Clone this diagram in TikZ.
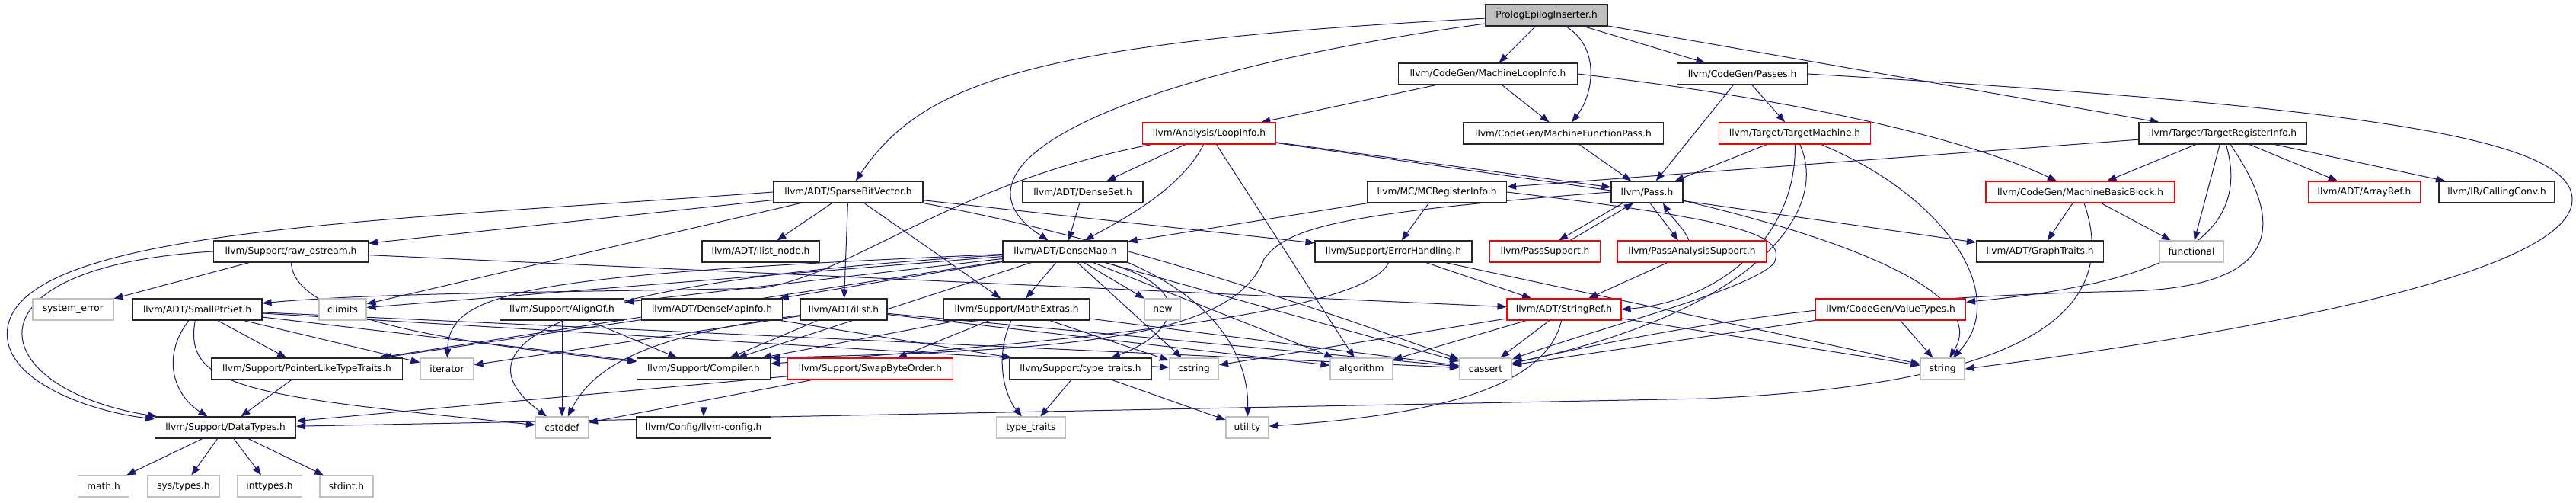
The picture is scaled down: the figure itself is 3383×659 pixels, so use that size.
\documentclass[tikz,border=0pt]{standalone}
\usepackage{fontspec}
\newfontfamily\dv{DejaVu Sans}
\usetikzlibrary{arrows.meta,backgrounds}
\definecolor{edgeblue}{HTML}{191970}
\definecolor{boxgrey}{HTML}{BFBFBF}
\begin{document}
\begin{tikzpicture}[x=1pt,y=-1pt,
 nd/.style={draw=black!85, fill=white, line width=1.1pt, minimum height=28pt, inner sep=0pt, font=\dv\fontsize{12.2}{14}\selectfont},
 rd/.style={nd, draw=red},
 gr/.style={nd, draw=boxgrey},
 rt/.style={nd, fill=boxgrey},
 dep/.style={draw=edgeblue, line width=1pt, -{Triangle[length=12pt,width=9pt]}}]
\useasboundingbox (0,0) rectangle (3383,659);
\node[rt,minimum width=160pt] (pei) at (2031,20) {PrologEpilogInserter.h};
\node[nd,minimum width=235pt] (mli) at (1954,97) {llvm/CodeGen/MachineLoopInfo.h};
\node[nd,minimum width=171pt] (passes) at (2288,97) {llvm/CodeGen/Passes.h};
\node[rd,minimum width=175pt] (loopinfo) at (1588,175) {llvm/Analysis/LoopInfo.h};
\node[nd,minimum width=263pt] (mfp) at (2053,175) {llvm/CodeGen/MachineFunctionPass.h};
\node[rd,minimum width=199pt] (tm) at (2357,175) {llvm/Target/TargetMachine.h};
\node[nd,minimum width=220pt] (tri) at (2919,175) {llvm/Target/TargetRegisterInfo.h};
\node[nd,minimum width=196pt] (sbv) at (1114,252) {llvm/ADT/SparseBitVector.h};
\node[nd,minimum width=158pt] (denseset) at (1422,252) {llvm/ADT/DenseSet.h};
\node[nd,minimum width=183pt] (mcri) at (1887,252) {llvm/MC/MCRegisterInfo.h};
\node[nd,minimum width=94pt] (pass) at (2163,252) {llvm/Pass.h};
\node[rd,minimum width=248pt] (mbb) at (2732,252) {llvm/CodeGen/MachineBasicBlock.h};
\node[rd,minimum width=147pt] (arrayref) at (3105,252) {llvm/ADT/ArrayRef.h};
\node[nd,minimum width=152pt] (callingconv) at (3279,252) {llvm/IR/CallingConv.h};
\node[nd,minimum width=203pt] (rawos) at (382,330) {llvm/Support/raw\_ostream.h};
\node[nd,minimum width=154pt] (ilistnode) at (999,330) {llvm/ADT/ilist\_node.h};
\node[nd,minimum width=164pt] (densemap) at (1399,330) {llvm/ADT/DenseMap.h};
\node[nd,minimum width=206pt] (errh) at (1830,330) {llvm/Support/ErrorHandling.h};
\node[rd,minimum width=145pt] (passsupport) at (2029,330) {llvm/PassSupport.h};
\node[rd,minimum width=196pt] (pas) at (2222,330) {llvm/PassAnalysisSupport.h};
\node[nd,minimum width=167pt] (graphtraits) at (2679,330) {llvm/ADT/GraphTraits.h};
\node[gr,minimum width=84pt] (functional) at (2878,330) {functional};
\node[gr,minimum width=106pt] (syserr) at (96,406) {system\_error};
\node[nd,minimum width=170pt] (smallptrset) at (259,406) {llvm/ADT/SmallPtrSet.h};
\node[gr,minimum width=62pt] (climits) at (450,406) {climits};
\node[nd,minimum width=163pt] (alignof) at (738,406) {llvm/Support/AlignOf.h};
\node[nd,minimum width=185pt] (densemapinfo) at (935,406) {llvm/ADT/DenseMapInfo.h};
\node[nd,minimum width=114pt] (ilist) at (1108,406) {llvm/ADT/ilist.h};
\node[nd,minimum width=191pt] (mathextras) at (1335,406) {llvm/Support/MathExtras.h};
\node[gr,minimum width=47pt] (new) at (1527,406) {new};
\node[rd,minimum width=150pt] (stringref) at (2054,406) {llvm/ADT/StringRef.h};
\node[rd,minimum width=197pt] (valuetypes) at (2483,406) {llvm/CodeGen/ValueTypes.h};
\node[nd,minimum width=251pt] (pltt) at (403,484) {llvm/Support/PointerLikeTypeTraits.h};
\node[gr,minimum width=70pt] (iterator) at (587,484) {iterator};
\node[nd,minimum width=175pt] (compiler) at (924,484) {llvm/Support/Compiler.h};
\node[rd,minimum width=217pt] (swapbyteorder) at (1143,484) {llvm/Support/SwapByteOrder.h};
\node[nd,minimum width=186pt] (typetraitsh) at (1419,484) {llvm/Support/type\_traits.h};
\node[gr,minimum width=65pt] (cstring) at (1568,484) {cstring};
\node[gr,minimum width=82pt] (algorithm) at (1788,484) {algorithm};
\node[gr,minimum width=69pt] (cassert) at (1951,484) {cassert};
\node[gr,minimum width=58pt] (string) at (2551,484) {string};
\node[nd,minimum width=185pt] (datatypes) at (296,561) {llvm/Support/DataTypes.h};
\node[gr,minimum width=69pt] (cstddef) at (738,561) {cstddef};
\node[nd,minimum width=177pt] (llvmconfig) at (924,561) {llvm/Config/llvm-config.h};
\node[gr,minimum width=91pt] (typetraits) at (1354,561) {type\_traits};
\node[gr,minimum width=56pt] (utility) at (1638,561) {utility};
\node[gr,minimum width=67pt] (math) at (136,638) {math.h};
\node[gr,minimum width=95pt] (systypes) at (241,638) {sys/types.h};
\node[gr,minimum width=85pt] (inttypes) at (354,638) {inttypes.h};
\node[gr,minimum width=70pt] (stdint) at (455,638) {stdint.h};
\begin{scope}[on background layer]
\draw[dep] (pei) .. controls (1350,55) and (1210,110) .. (sbv);
\draw[dep] (pei) .. controls (1450,100) and (1230,220) .. (densemap);
\draw[dep] (pei) -- (mli);
\draw[dep] (pei) .. controls (2100,60) and (2095,120) .. (mfp);
\draw[dep] (pei) -- (passes);
\draw[dep] (pei) -- (tri);
\draw[dep] (mli) -- (loopinfo);
\draw[dep] (mli) -- (mfp);
\draw[dep] (mli.east) .. controls (2400,135) and (2600,190) .. (mbb);
\draw[dep] (passes) -- (pass);
\draw[dep] (passes) -- (tm);
\draw[dep] (passes.east) .. controls (3100,140) and (3378,180) .. (3378,262) .. controls (3378,370) and (2850,450) .. (string.east);
\draw[dep] (loopinfo) -- (denseset);
\draw[dep] (loopinfo) .. controls (1550,250) and (1470,290) .. (densemap);
\draw[dep] (loopinfo) -- (algorithm);
\draw[dep] (loopinfo) -- (pass);
\draw[dep] (loopinfo) -- (graphtraits);
\draw[dep] (loopinfo) .. controls (1250,240) and (1120,360) .. (1000,378) .. controls (800,383) and (500,383) .. (smallptrset);
\draw[dep] (mfp) -- (pass);
\draw[dep] (tm) -- (pass);
\draw[dep] (tm) .. controls (2360,310) and (2260,395) .. (stringref.east);
\draw[dep] (tm) .. controls (2405,280) and (2300,410) .. (cassert);
\draw[dep] (tm) .. controls (2560,260) and (2640,390) .. (string);
\draw[dep] (tri) -- (mcri);
\draw[dep] (tri) -- (mbb);
\draw[dep] (tri) -- (functional);
\draw[dep] (tri) .. controls (2965,330) and (2800,375) .. (valuetypes);
\draw[dep] (tri) .. controls (3005,300) and (2990,375) .. (2800,382) .. controls (2400,390) and (2200,430) .. (cassert);
\draw[dep] (tri) -- (arrayref);
\draw[dep] (tri) -- (callingconv);
\draw[dep] (sbv.west) .. controls (500,290) and (30,300) .. (10,430) .. controls (0,500) and (120,540) .. (datatypes);
\draw[dep] (sbv) -- (rawos);
\draw[dep] (sbv) -- (climits);
\draw[dep] (sbv) -- (ilistnode);
\draw[dep] (sbv) -- (ilist);
\draw[dep] (sbv) -- (mathextras);
\draw[dep] (sbv) -- (errh);
\draw[dep] (sbv.south east) .. controls (1500,320) and (1800,430) .. (cassert);
\draw[dep] (rawos.west) .. controls (-60,350) and (-20,510) .. (datatypes);
\draw[dep] (rawos) -- (syserr);
\draw[dep] (rawos) .. controls (385,420) and (600,450) .. (compiler);
\draw[dep] (rawos) -- (stringref);
\draw[dep] (densemap) -- (mathextras);
\draw[dep] (densemap) -- (new);
\draw[dep] (densemap) -- (cstring);
\draw[dep] (densemap.south east) .. controls (1610,400) and (1640,480) .. (utility);
\draw[dep] (densemap) .. controls (1580,380) and (1540,440) .. (typetraitsh);
\draw[dep] (densemap) -- (algorithm);
\draw[dep] (densemap) -- (cassert);
\draw[dep] (densemap) -- (climits);
\draw[dep] (densemap) .. controls (700,360) and (590,380) .. (iterator);
\draw[dep] (densemap) .. controls (700,370) and (600,460) .. (cstddef);
\draw[dep] (densemap) -- (alignof);
\draw[dep] (densemap) -- (densemapinfo);
\draw[dep] (densemap) -- (pltt);
\draw[dep] (densemap) -- (compiler);
\draw[dep] (densemapinfo) -- (pltt);
\draw[dep] (densemapinfo) -- (typetraitsh);
\draw[dep] (alignof) -- (cstddef);
\draw[dep] (alignof) -- (compiler);
\draw[dep] (ilist) -- (compiler);
\draw[dep] (ilist) .. controls (850,440) and (780,480) .. (cstddef);
\draw[dep] (ilist) -- (iterator);
\draw[dep] (ilist) -- (algorithm);
\draw[dep] (ilist) -- (cassert);
\draw[dep] (mathextras) -- (swapbyteorder);
\draw[dep] (mathextras) .. controls (1305,470) and (1320,520) .. (typetraits);
\draw[dep] (mathextras) -- (cstring);
\draw[dep] (mathextras) -- (compiler);
\draw[dep] (mathextras) -- (cassert);
\draw[dep] (swapbyteorder) -- (datatypes);
\draw[dep] (swapbyteorder) -- (cstddef);
\draw[dep] (typetraitsh) -- (typetraits);
\draw[dep] (typetraitsh) -- (utility);
\draw[dep] (compiler) -- (llvmconfig);
\draw[dep] (smallptrset) .. controls (210,470) and (230,520) .. (datatypes);
\draw[dep] (smallptrset) .. controls (240,510) and (330,520) .. (cstddef);
\draw[dep] (smallptrset) -- (pltt);
\draw[dep] (smallptrset) -- (iterator);
\draw[dep] (smallptrset) -- (compiler);
\draw[dep] (smallptrset) -- (cassert);
\draw[dep] (smallptrset) -- (cstring);
\draw[dep] (pltt) -- (datatypes);
\draw[dep] (datatypes) -- (math);
\draw[dep] (datatypes) -- (systypes);
\draw[dep] (datatypes) -- (inttypes);
\draw[dep] (datatypes) -- (stdint);
\draw[dep] (errh) .. controls (1790,420) and (1300,455) .. (compiler);
\draw[dep] (errh) -- (stringref);
\draw[dep] (errh) -- (string);
\draw[dep] (stringref) -- (cstring);
\draw[dep] (stringref) -- (algorithm);
\draw[dep] (stringref) -- (cassert);
\draw[dep] (stringref) .. controls (2030,510) and (1880,545) .. (utility);
\draw[dep] (stringref) -- (string);
\draw[dep] (mcri) -- (densemap);
\draw[dep] (mcri) -- (errh);
\draw[dep] (mcri.east) .. controls (2300,290) and (2345,310) .. (2330,345) .. controls (2300,380) and (2100,430) .. (cassert);
\draw[dep] ([xshift=-32pt]pass.south) -- ([xshift=18pt]passsupport.north);
\draw[dep] ([xshift=33pt]passsupport.north) -- ([xshift=-18pt]pass.south);
\draw[dep] ([xshift=4pt]pass.south) -- ([xshift=-18pt]pas.north);
\draw[dep] ([xshift=-4pt]pas.north) .. controls (2212,300) and (2195,285) .. ([xshift=21pt]pass.south);
\draw[dep] (pass.west) .. controls (1750,280) and (1690,300) .. (1660,340) .. controls (1620,445) and (1400,460) .. (compiler.north east);
\draw[dep] (pass) .. controls (2450,320) and (2610,390) .. (string);
\draw[dep] (pas) -- (stringref);
\draw[dep] (valuetypes) -- (string);
\draw[dep] (valuetypes) -- (cassert);
\draw[dep] (mbb) -- (graphtraits);
\draw[dep] (mbb) -- (functional);
\draw[dep] (mbb) .. controls (2790,420) and (2640,505) .. (2240,523) -- (datatypes);
\draw[dep] (denseset) -- (densemap);
\end{scope}
\end{tikzpicture}
\end{document}
